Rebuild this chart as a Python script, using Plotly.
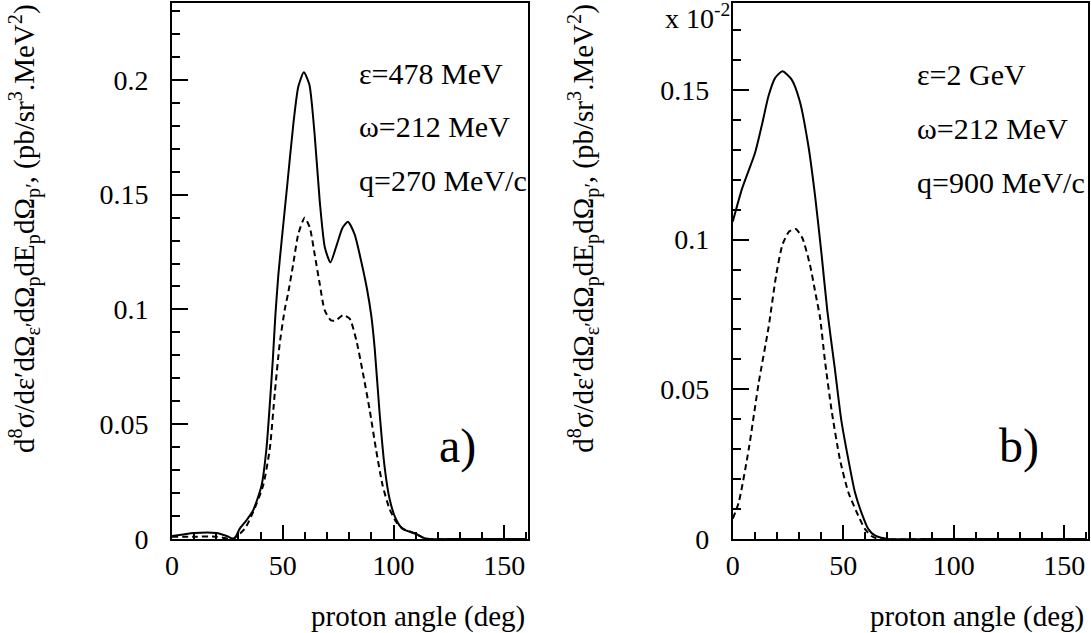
import plotly.graph_objects as go

# ---- data ----
a_solid_x = [0, 5, 10, 20, 25, 28, 30.6, 33.5, 36.6, 40.4, 42.6, 44.1, 45.5, 46.7, 48, 49.5, 52, 54.8,
             57, 59.5, 62, 64.4, 66.7, 69, 71.5, 74, 77, 79.4, 82.4, 85.4, 88, 90, 91.5, 93.7, 95.9,
             98.2, 101, 104, 110, 113, 116, 130, 160]
a_solid_y = [0.0013, 0.002, 0.0026, 0.0026, 0.0012, 0.0, 0.0045, 0.008, 0.0124, 0.0232, 0.039, 0.058,
             0.078, 0.098, 0.115, 0.13, 0.154, 0.181, 0.197, 0.2033, 0.198, 0.176, 0.147, 0.127,
             0.1205, 0.127, 0.1356, 0.1382, 0.1328, 0.121, 0.109, 0.097, 0.083, 0.055, 0.032,
             0.0175, 0.0088, 0.0045, 0.0023, 0.0007, 0.0, 0.0, 0.0]

a_dash_x = [0, 10, 20, 27, 29.4, 32.9, 36.6, 41.1, 44.1, 46.4, 48.6, 50.9, 52.4, 54.7, 57, 59.9, 62.2,
            64.4, 66.7, 68.9, 71.8, 74, 77.2, 80.2, 83.2, 86.2, 89.2, 92.1, 95.1, 98.2, 101.2, 104.2,
            110, 113, 116, 130, 160]
a_dash_y = [0.001, 0.001, 0.001, 0.0, 0.0013, 0.0045, 0.0117, 0.0232, 0.039, 0.0636, 0.085, 0.1,
            0.107, 0.1197, 0.1328, 0.140, 0.1356, 0.124, 0.111, 0.0997, 0.0952, 0.0952, 0.0975,
            0.096, 0.0866, 0.0722, 0.0564, 0.039, 0.0232, 0.0131, 0.0074, 0.0045, 0.0023, 0.0007,
            0.0, 0.0, 0.0]

b_solid_x = [0, 4.2, 10.1, 13.1, 16.2, 19.2, 22.5, 26.6, 30.3, 34.2, 37.2, 40.2, 42.8, 46.1, 49.1,
             52.3, 55.3, 58.2, 61.3, 64.3, 70.3, 90, 160]
b_solid_y = [0.106, 0.117, 0.129, 0.138, 0.148, 0.154, 0.1562, 0.1535, 0.1463, 0.1314, 0.1149,
             0.095, 0.0762, 0.0575, 0.0398, 0.0266, 0.0156, 0.0089, 0.0034, 0.0012, 0.0, 0.0, 0.0]

b_dash_x = [0, 2.7, 7.2, 11.7, 16.2, 19.7, 22.5, 25.5, 28.5, 31.5, 34.9, 37.5, 39.5, 41.7, 44.7,
            48.5, 52.3, 56.8, 59.8, 62.8, 66, 90]
b_dash_y = [0.0068, 0.0122, 0.0299, 0.052, 0.0707, 0.0884, 0.0983, 0.1027, 0.1035, 0.1005, 0.0917,
            0.0818, 0.074, 0.0597, 0.0431, 0.0266, 0.0156, 0.0078, 0.0034, 0.001, 0.0, 0.0]

x_ticks = [0, 50, 100, 150]
a_y_ticks = [0, 0.05, 0.1, 0.15, 0.2]
b_y_ticks = [0, 0.05, 0.1, 0.15]

a_labels = ["ε=478 MeV", "ω=212 MeV", "q=270 MeV/c"]
b_labels = ["ε=2 GeV", "ω=212 MeV", "q=900 MeV/c"]

FONT = "Liberation Serif"
TICK_SIZE = 28
TITLE_SIZE = 29
ytitle = ("d<sup>8</sup>σ/dε′dΩ<sub>ε′</sub>dΩ<sub>p</sub>dE<sub>p</sub>dΩ<sub>p′</sub>, "
          "(pb/sr<sup>3</sup>.MeV<sup>2</sup>)")

fig = go.Figure()
line_solid = dict(color="black", width=2, shape="spline", smoothing=0.6)
line_dash = dict(color="black", width=2, dash="6px,4px", shape="spline", smoothing=0.6)

fig.add_trace(go.Scatter(x=a_solid_x, y=a_solid_y, mode="lines", line=line_solid, xaxis="x", yaxis="y"))
fig.add_trace(go.Scatter(x=a_dash_x, y=a_dash_y, mode="lines", line=line_dash, xaxis="x", yaxis="y"))
fig.add_trace(go.Scatter(x=b_solid_x, y=b_solid_y, mode="lines", line=line_solid, xaxis="x2", yaxis="y2"))
fig.add_trace(go.Scatter(x=b_dash_x, y=b_dash_y, mode="lines", line=line_dash, xaxis="x2", yaxis="y2"))

def xax(domain, anchor):
    return dict(domain=domain, anchor=anchor, range=[0, 160.8], tickvals=x_ticks,
                ticks="inside", ticklen=14, tickwidth=2, tickcolor="black",
                minor=dict(dtick=10, ticks="inside", ticklen=7, tickwidth=1.5, tickcolor="black"),
                showline=True, linewidth=2, linecolor="black", mirror=True,
                showgrid=False, zeroline=False, ticklabelstandoff=0,
                tickfont=dict(family=FONT, size=TICK_SIZE, color="black"))

def yax(rng, ticks, anchor):
    return dict(range=rng, anchor=anchor, tickvals=ticks,
                ticks="inside", ticklen=16, tickwidth=2, tickcolor="black",
                minor=dict(dtick=0.01, ticks="inside", ticklen=8, tickwidth=1.5, tickcolor="black"),
                showline=True, linewidth=2, linecolor="black", mirror=True,
                showgrid=False, zeroline=False, ticklabelstandoff=16,
                tickfont=dict(family=FONT, size=TICK_SIZE, color="black"))

ann = []
for i, t in enumerate(a_labels):
    ann.append(dict(text=t, x=83.3, y=[0.203, 0.1797, 0.156][i], xref="x", yref="y",
                    xanchor="left", yanchor="middle", showarrow=False,
                    font=dict(family=FONT, size=30, color="black")))
for i, t in enumerate(b_labels):
    ann.append(dict(text=t, x=82.4, y=[0.155, 0.1372, 0.119][i], xref="x2", yref="y2",
                    xanchor="left", yanchor="middle", showarrow=False,
                    font=dict(family=FONT, size=30, color="black")))
ann.append(dict(text="a)", x=128.8, y=0.0404, xref="x", yref="y", showarrow=False,
                font=dict(family=FONT, size=48, color="black")))
ann.append(dict(text="b)", x=129.7, y=0.0309, xref="x2", yref="y2", showarrow=False,
                font=dict(family=FONT, size=48, color="black")))
ann.append(dict(text="x 10<sup>-2</sup>", x=0.611, y=0.975, xref="paper", yref="paper",
                xanchor="right", yanchor="middle", showarrow=False,
                font=dict(family=FONT, size=TICK_SIZE, color="black")))
for xp in [0.3878, 0.998]:
    ann.append(dict(text="proton angle (deg)", x=xp, y=-0.145, xref="paper", yref="paper",
                    xanchor="right", yanchor="middle", showarrow=False,
                    font=dict(family=FONT, size=TITLE_SIZE, color="black")))
for xp in [-0.161, 0.449]:
    ann.append(dict(text=ytitle, x=xp, y=1.002, xref="paper", yref="paper", textangle=-90,
                    xanchor="center", yanchor="top", showarrow=False,
                    font=dict(family=FONT, size=TITLE_SIZE, color="black")))

fig.update_layout(
    width=1091, height=633,
    margin=dict(l=172, r=1, t=1, b=94),
    paper_bgcolor="white", plot_bgcolor="white",
    showlegend=False,
    xaxis=xax([0, 0.3889], "y"),
    yaxis=yax([0, 0.2335], a_y_ticks, "x"),
    xaxis2=xax([0.6122, 1.0], "y2"),
    yaxis2=yax([0, 0.179], b_y_ticks, "x2"),
    annotations=ann,
)

fig.write_html("out.html",
               config={"displayModeBar": False},
               post_script="document.body.style.margin='0';document.body.style.padding='0';"
                           "document.body.style.overflow='hidden';")
